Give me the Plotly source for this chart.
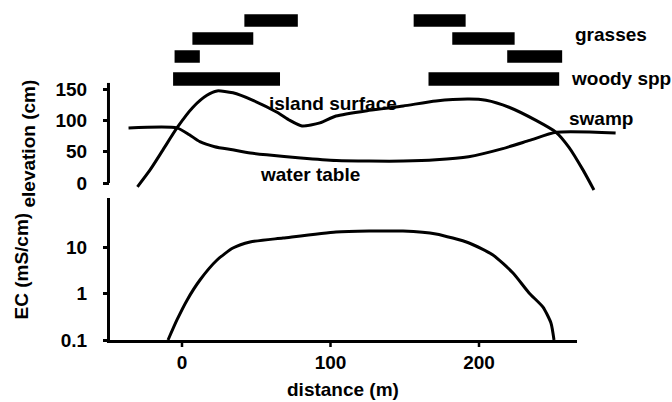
import plotly.graph_objects as go

# ---------------- data ----------------
# island surface elevation (cm) vs distance (m)
surface_d = [-30, -21.5, -12.8, -3.4, 7.4, 16.8, 23.6, 34.3, 47.8, 64, 72.7, 80.8, 92.9,
             103.7, 126, 149, 171, 193.3, 204.7, 220.2, 238.4, 251.9, 260.6, 270, 277.4]
surface_e = [-6, 21, 53, 88, 121, 140, 147, 144, 132, 113, 100, 91, 96,
             107, 116, 123, 131, 134, 132, 121, 100, 81, 57, 21, -11]

# water table / swamp level (cm)
water_d = [-36, -3.4, 5, 12, 22, 34, 46, 57, 80, 104, 126, 149, 171, 193, 216, 234, 252, 292]
water_e = [88, 88, 77, 66, 58, 53, 48, 45, 40, 36, 35, 35, 37, 42, 55, 68, 81, 80]

# electrical conductivity (mS/cm)
ec_d = [-9.4, -3.4, 3.4, 12.1, 23.6, 34.3, 45.8, 68, 103.7, 126, 148.8, 171, 193.3,
        209.4, 222.9, 233.7, 243.1, 248.5, 250.5]
ec_v = [0.1, 0.27, 0.72, 1.95, 5.25, 9.5, 12.8, 15.6, 21, 22, 22, 19.1, 12.2,
        6.7, 2.76, 1.03, 0.51, 0.23, 0.1]

# vegetation occurrence bars (distance ranges, m)
grass_row = [1, 1, 2, 2, 3, 3]
grass_start = [42, 156, 7, 182, -5, 219]
grass_end = [78, 191, 48, 224, 12, 256]
woody_start = [-6, 166]
woody_end = [66, 254]

elev_ticks = [0, 50, 100, 150]
ec_ticks = [0.1, 1, 10]
ec_ticktext = ["0.1", "1", "10"]
dist_ticks = [0, 100, 200]

# ---------------- layout helpers ----------------
W, H = 672, 402
X0_PX, X_SCALE = 182.0, 1.485      # pixel of distance 0, px per m
XMIN, XMAX_B, XMAX_T = -48.5, 266, 300
EC_TOP_PX, EC_BASE_PX = 198, 340   # pixel rows of the EC panel top and of EC = 0.1
DEC_PX = 46.5                      # pixels per decade on the EC axis
EC_PAD_PX = 9                      # room below EC = 0.1 for the axis spine and ticks
LW = 3

EC_LOG_MIN = -1 - EC_PAD_PX / DEC_PX
EC_LOG_MAX = -1 + (EC_BASE_PX - EC_TOP_PX) / DEC_PX


def dom_x(lo, hi):
    return [(X0_PX + X_SCALE * lo) / W, (X0_PX + X_SCALE * hi) / W]


def dom_y(top_px, bot_px):
    return [1 - bot_px / H, 1 - top_px / H]


def ec_below(px):
    """EC value lying px pixels below the 0.1 baseline."""
    return 10 ** (-1 - px / DEC_PX)


FONT = dict(family="Liberation Sans, Arial, sans-serif", size=19, color="black", weight="bold")

fig = go.Figure()

# distance-axis spine and tick marks of the EC panel
fig.add_trace(go.Scatter(x=[XMIN, XMAX_B], y=[ec_below(LW / 2)] * 2, mode="lines",
                         xaxis="x", yaxis="y", hoverinfo="skip",
                         line=dict(color="black", width=LW)))
tick_x, tick_y = [], []
for t in dist_ticks:
    tick_x += [t, t, None]
    tick_y += [ec_below(LW), ec_below(LW + 4), None]
fig.add_trace(go.Scatter(x=tick_x, y=tick_y, mode="lines", xaxis="x", yaxis="y",
                         hoverinfo="skip", line=dict(color="black", width=2.5)))

fig.add_trace(go.Scatter(x=surface_d, y=surface_e, mode="lines", xaxis="x2", yaxis="y2",
                         line=dict(color="black", width=LW, shape="spline", smoothing=0.6)))
fig.add_trace(go.Scatter(x=water_d, y=water_e, mode="lines", xaxis="x2", yaxis="y2",
                         line=dict(color="black", width=LW, shape="spline", smoothing=0.6)))
fig.add_trace(go.Scatter(x=ec_d, y=ec_v, mode="lines", xaxis="x", yaxis="y",
                         line=dict(color="black", width=LW, shape="spline", smoothing=0.6)))

fig.add_trace(go.Bar(orientation="h", y=grass_row,
                     x=[e - s for s, e in zip(grass_start, grass_end)], base=grass_start,
                     width=0.7, marker=dict(color="black", line=dict(width=0)),
                     xaxis="x2", yaxis="y3"))
fig.add_trace(go.Bar(orientation="h", y=[1] * len(woody_start),
                     x=[e - s for s, e in zip(woody_start, woody_end)], base=woody_start,
                     width=0.74, marker=dict(color="black", line=dict(width=0)),
                     xaxis="x2", yaxis="y4"))

axis_common = dict(showgrid=False, zeroline=False, tickfont=FONT, tickcolor="black",
                   linecolor="black", automargin=False)
hidden = dict(visible=False, automargin=False, showgrid=False, zeroline=False)

fig.update_layout(
    template="none",
    width=W, height=H, margin=dict(l=0, r=0, t=0, b=0, pad=0), autosize=False,
    paper_bgcolor="white", plot_bgcolor="rgba(0,0,0,0)", showlegend=False,
    barmode="overlay",
    xaxis=dict(domain=dom_x(XMIN, XMAX_B), range=[XMIN, XMAX_B], anchor="y",
               showline=False, ticks="", tickvals=dist_ticks, **axis_common),
    yaxis=dict(domain=dom_y(EC_TOP_PX, EC_BASE_PX + EC_PAD_PX), type="log",
               range=[EC_LOG_MIN, EC_LOG_MAX], anchor="x",
               showline=False, ticks="outside", ticklen=6, tickwidth=2.5,
               tickvals=ec_ticks, ticktext=ec_ticktext, ticklabelstandoff=12, **axis_common),
    xaxis2=dict(domain=dom_x(XMIN, XMAX_T), range=[XMIN, XMAX_T], anchor="y2", **hidden),
    yaxis2=dict(domain=dom_y(82.8, 191.8), range=[-14, 160], anchor="x2",
                showline=False, ticks="outside", ticklen=6, tickwidth=2.5,
                tickvals=elev_ticks, ticklabelstandoff=12, **axis_common),
    yaxis3=dict(domain=dom_y(11.5, 65.5), range=[3.5, 0.5], anchor="x2", **hidden),
    yaxis4=dict(domain=dom_y(70, 88), range=[0.5, 1.5], anchor="x2", **hidden),
)

# vertical spines (elevation axis spans 0..160 cm; EC axis spans its panel)
spine_x = (X0_PX + X_SCALE * XMIN - LW / 2) / W
fig.add_shape(type="line", xref="paper", yref="y2", x0=spine_x, x1=spine_x, y0=0, y1=160,
              line=dict(color="black", width=LW))
fig.add_shape(type="line", xref="paper", yref="paper", x0=spine_x, x1=spine_x,
              y0=1 - (EC_BASE_PX + LW) / H, y1=1 - EC_TOP_PX / H,
              line=dict(color="black", width=LW))
# horizontal spine of the distance axis (paper-referenced backup)
fig.add_shape(type="line", xref="paper", yref="paper",
              x0=spine_x - LW / 2 / W, x1=dom_x(XMIN, XMAX_B)[1],
              y0=1 - (EC_BASE_PX + LW / 2) / H, y1=1 - (EC_BASE_PX + LW / 2) / H,
              line=dict(color="black", width=LW))


def ann(text, xpx, ypx, xanchor="left", angle=0):
    fig.add_annotation(text=text, x=xpx / W, y=1 - ypx / H, xref="paper", yref="paper",
                       xanchor=xanchor, yanchor="middle", showarrow=False, font=FONT,
                       textangle=angle)


ann("island surface", 267, 103.4)
ann("water table", 258, 175)
ann("grasses", 573, 34.4)
ann("woody spp", 569, 79)
ann("swamp", 567, 118.4)
ann("distance (m)", 342.5, 389, xanchor="center")
ann("elevation (cm)", 28, 143.5, xanchor="center", angle=-90)
ann("EC (mS/cm)", 20.5, 266, xanchor="center", angle=-90)

fig.write_html(
    "out.html",
    config={"displayModeBar": False},
    post_script="document.body.style.margin='0';document.body.style.overflow='hidden';",
)
